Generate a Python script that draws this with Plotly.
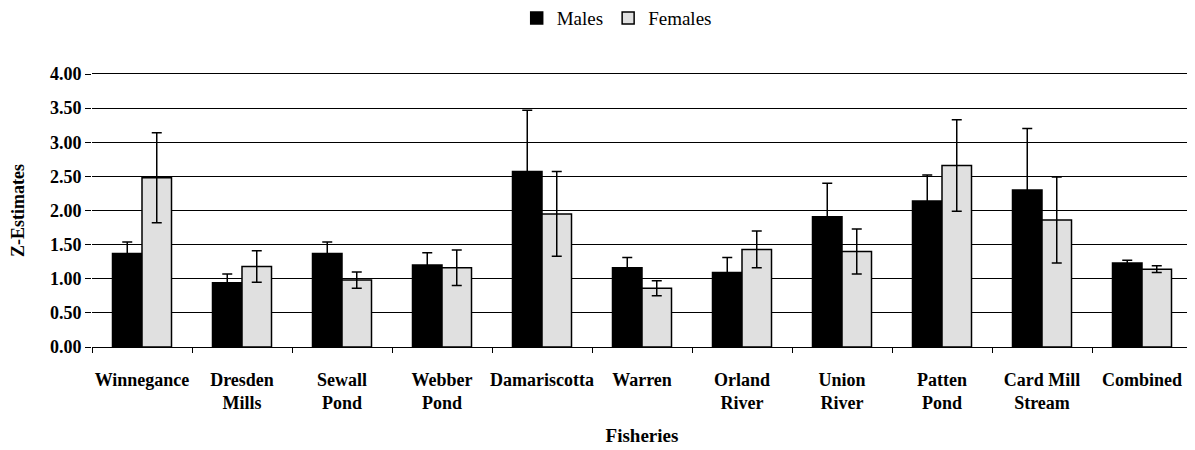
import plotly.graph_objects as go

# Fisheries and Z-estimates
fisheries = ['Winnegance', 'Dresden<br>Mills', 'Sewall<br>Pond', 'Webber<br>Pond', 'Damariscotta',
             'Warren', 'Orland<br>River', 'Union<br>River', 'Patten<br>Pond', 'Card Mill<br>Stream', 'Combined']
males = [1.37, 0.94, 1.37, 1.20, 2.57, 1.16, 1.09, 1.91, 2.14, 2.30, 1.23]
males_err = [0.17, 0.13, 0.17, 0.18, 0.90, 0.15, 0.22, 0.49, 0.38, 0.90, 0.04]
females = [2.48, 1.18, 0.98, 1.16, 1.95, 0.86, 1.43, 1.40, 2.66, 1.86, 1.14]
females_err = [0.66, 0.23, 0.12, 0.26, 0.62, 0.11, 0.27, 0.33, 0.67, 0.63, 0.05]

FONT = 'Liberation Serif'

fig = go.Figure()
fig.add_trace(go.Bar(
    x=fisheries, y=males, name='Males',
    marker=dict(color='black', line=dict(color='black', width=1.5)),
    error_y=dict(type='data', array=males_err, color='black', thickness=1.5, width=5),
))
fig.add_trace(go.Bar(
    x=fisheries, y=females, name='Females',
    marker=dict(color='#e0e0e0', line=dict(color='black', width=1.5)),
    error_y=dict(type='data', array=females_err, color='black', thickness=1.5, width=5),
))

# page body adds an 8px offset, so the figure is a bit smaller than the window
fig.update_layout(
    width=1187, height=442,
    margin=dict(l=84, r=3, t=66, b=103, autoexpand=False),
    barmode='group', bargap=0.41, bargroupgap=0,
    plot_bgcolor='white', paper_bgcolor='white',
    font=dict(family=FONT, color='black', size=18),
    legend=dict(orientation='h', x=0.477, xanchor='center', y=1.205, yanchor='middle',
                font=dict(family=FONT, size=19, color='black'), traceorder='normal', itemwidth=30),
    xaxis=dict(
        title=dict(text='Fisheries', font=dict(family=FONT, size=19, weight='bold'), standoff=16),
        tickfont=dict(family=FONT, size=18, weight='bold'), tickangle=0,
        ticks='outside', tickson='boundaries', ticklen=5, tickcolor='black',
        ticklabelstandoff=16,
        showline=True, linecolor='black', linewidth=1, mirror=True,
    ),
    yaxis=dict(
        title=dict(text='Z-Estimates', font=dict(family=FONT, size=18, weight='bold'), standoff=20),
        tickfont=dict(family=FONT, size=18, weight='bold'),
        range=[0, 4], tickvals=[0, 0.5, 1, 1.5, 2, 2.5, 3, 3.5, 4], tickformat='.2f',
        showgrid=True, gridcolor='black', gridwidth=1,
        ticks='outside', ticklen=6, tickcolor='black',
        zeroline=False, showline=False,
    ),
)

fig.write_html("out.html")
